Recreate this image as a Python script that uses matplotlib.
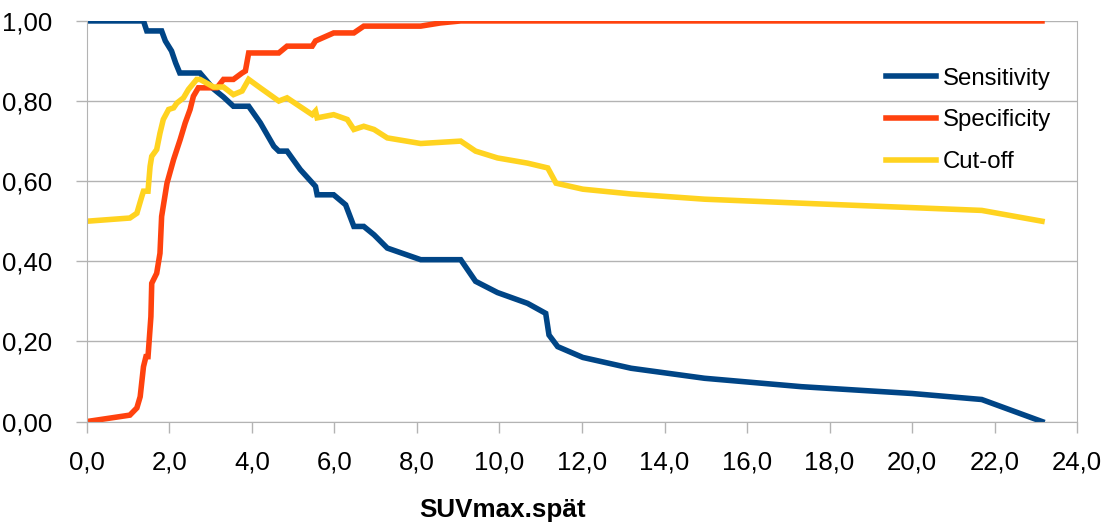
import numpy as np
import matplotlib
matplotlib.use("Agg")
import matplotlib.pyplot as plt

plt.rcParams['font.family'] = ['Liberation Sans', 'DejaVu Sans']

# SUVmax.spaet thresholds and the three curves
sens_x = [0.0, 1.37, 1.45, 1.81, 1.90, 2.05, 2.15, 2.25, 2.74, 3.07, 3.31, 3.55, 3.92,
          4.20, 4.53, 4.65, 4.85, 5.17, 5.54, 5.58, 5.98, 6.27, 6.47, 6.71, 6.96, 7.28,
          8.09, 9.06, 9.42, 9.95, 10.68, 11.12, 11.20, 11.41, 12.02, 13.19, 14.97,
          17.32, 20.0, 21.69, 23.15]
sens_y = [1.0, 1.0, 0.975, 0.975, 0.95, 0.925, 0.895, 0.87, 0.87, 0.83, 0.81, 0.787, 0.787,
          0.746, 0.687, 0.675, 0.675, 0.629, 0.587, 0.566, 0.566, 0.541, 0.487, 0.487, 0.466,
          0.433, 0.404, 0.404, 0.35, 0.322, 0.295, 0.27, 0.216, 0.187, 0.16, 0.133, 0.108,
          0.087, 0.07, 0.055, 0.0]

spec_x = [0.0, 1.04, 1.21, 1.29, 1.37, 1.43, 1.48, 1.55, 1.57, 1.69, 1.77, 1.81, 1.94,
          2.10, 2.26, 2.38, 2.50, 2.58, 2.70, 3.15, 3.31, 3.55, 3.76, 3.84, 3.92, 4.65,
          4.85, 5.46, 5.54, 5.98, 6.47, 6.71, 8.09, 8.57, 9.06, 23.15]
spec_y = [0.0, 0.016, 0.034, 0.062, 0.137, 0.162, 0.162, 0.262, 0.345, 0.37, 0.42, 0.512,
          0.595, 0.654, 0.704, 0.745, 0.779, 0.812, 0.833, 0.833, 0.854, 0.854, 0.87, 0.875,
          0.92, 0.92, 0.937, 0.937, 0.95, 0.97, 0.97, 0.987, 0.987, 0.995, 1.0, 1.0]

cut_x = [0.0, 1.04, 1.21, 1.33, 1.37, 1.48, 1.53, 1.57, 1.69, 1.77, 1.85, 1.98, 2.10,
         2.18, 2.34, 2.46, 2.66, 2.74, 3.07, 3.31, 3.55, 3.76, 3.92, 4.20, 4.65, 4.85,
         5.46, 5.54, 5.58, 5.98, 6.31, 6.47, 6.71, 6.96, 7.28, 8.09, 9.06, 9.42, 9.95,
         10.68, 11.17, 11.37, 12.02, 13.19, 14.97, 17.32, 21.69, 23.15]
cut_y = [0.5, 0.508, 0.52, 0.562, 0.575, 0.575, 0.637, 0.662, 0.679, 0.72, 0.754, 0.779,
         0.783, 0.795, 0.808, 0.829, 0.854, 0.854, 0.835, 0.835, 0.816, 0.825, 0.854, 0.833,
         0.80, 0.808, 0.766, 0.775, 0.758, 0.766, 0.754, 0.729, 0.737, 0.729, 0.708, 0.694,
         0.70, 0.675, 0.658, 0.645, 0.633, 0.595, 0.58, 0.568, 0.555, 0.545, 0.527, 0.5]

x_ticks = np.arange(0, 25, 2)
x_labels = ["0,0", "2,0", "4,0", "6,0", "8,0", "10,0", "12,0", "14,0", "16,0",
            "18,0", "20,0", "22,0", "24,0"]
y_ticks = np.arange(0, 1.01, 0.2)
y_labels = ["0,00", "0,20", "0,40", "0,60", "0,80", "1,00"]

fig = plt.figure(figsize=(11.05, 5.23), dpi=100)
ax = fig.add_axes([0.0787, 0.194, 0.8960, 0.766])

lw = 4.0
ax.plot(sens_x, sens_y, color="#004586", lw=lw, label="Sensitivity", solid_joinstyle="miter")
ax.plot(spec_x, spec_y, color="#ff420e", lw=lw, label="Specificity", solid_joinstyle="miter")
ax.plot(cut_x, cut_y, color="#ffd320", lw=lw, label="Cut-off", solid_joinstyle="miter")

ax.set_xlim(0, 24)
ax.set_ylim(0, 1)
ax.set_xticks(x_ticks)
ax.set_xticklabels(x_labels)
ax.set_yticks(y_ticks)
ax.set_yticklabels(y_labels)

gray = "#b3b3b3"
ax.grid(axis="y", color=gray, lw=1)
ax.set_axisbelow(True)
for s in ["left", "bottom", "right"]:
    ax.spines[s].set_color(gray)
ax.spines["top"].set_visible(False)
ax.tick_params(axis="both", colors=gray, labelcolor="black", labelsize=18.5,
               length=8, width=1)
ax.tick_params(axis="x", pad=13)
ax.tick_params(axis="y", pad=17)

for lab in ax.get_yticklabels() + ax.get_xticklabels():
    lab.set_clip_on(False)

leg = ax.legend(loc="upper left", bbox_to_anchor=(0.807, 0.883), frameon=False,
                fontsize=17.3, handlelength=2.1, handletextpad=0.25, labelspacing=0.82,
                borderaxespad=0, borderpad=0)

fig.text(0.455, 0.025, "SUVmax.spät", fontsize=18.7, fontweight="bold",
         ha="center", va="center")

fig.savefig("out.png", dpi=100)
